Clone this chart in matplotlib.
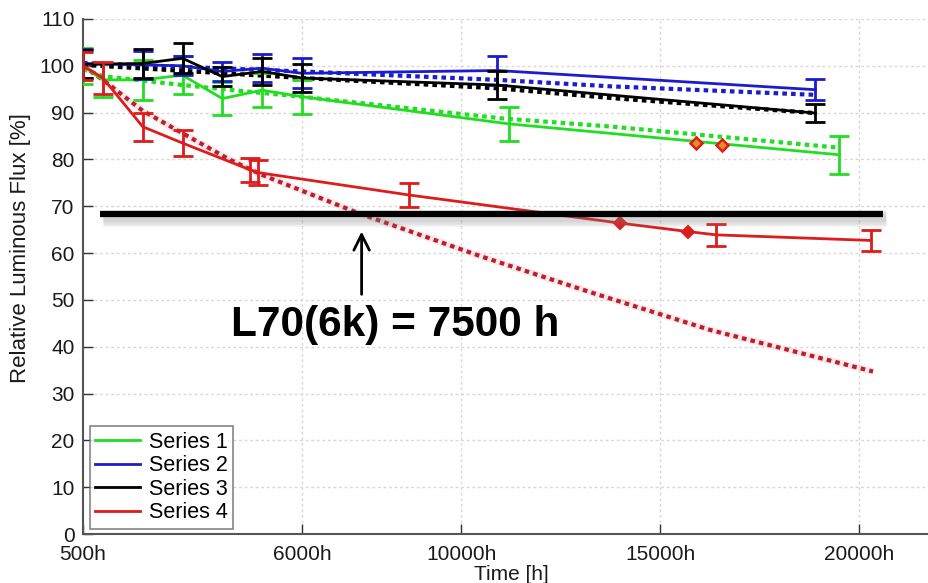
import matplotlib
matplotlib.use("Agg")
import matplotlib.pyplot as plt
import matplotlib.patheffects as pe

plt.rcParams['font.family'] = ['Liberation Sans', 'DejaVu Sans']

# ---- measured series (hours, relative luminous flux %) ----
s1_hours = [500, 1000, 2000, 3000, 4000, 5000, 6000, 11200, 19500]
s1_flux = [100.0, 97.0, 97.0, 98.0, 93.0, 94.8, 93.4, 87.6, 81.0]
s1_err = [3.8, 3.7, 4.2, 4.0, 3.5, 3.7, 3.6, 3.6, 4.0]
s1_fit_hours = [500, 1000, 3000, 4500, 6000, 11000, 13800, 19500]
s1_fit_flux = [99.3, 97.8, 95.9, 94.6, 93.4, 88.8, 87.0, 82.5]

s2_hours = [500, 2000, 3000, 4000, 5000, 6000, 10900, 18900]
s2_flux = [100.5, 100.2, 100.0, 98.8, 99.5, 98.4, 99.0, 94.9]
s2_err = [3.0, 3.0, 2.0, 2.0, 3.0, 3.2, 3.0, 2.2]
s2_fit_hours = [500, 6000, 10900, 13800, 18900]
s2_fit_flux = [100.6, 98.8, 97.0, 95.6, 93.8]

s3_hours = [500, 2000, 3000, 4000, 5000, 6000, 10900, 18900]
s3_flux = [100.3, 100.5, 101.6, 97.7, 98.8, 97.4, 95.9, 89.9]
s3_err = [3.0, 3.0, 3.2, 2.0, 2.8, 2.9, 2.9, 1.9]
s3_fit_hours = [500, 6000, 10900, 13800, 18900]
s3_fit_flux = [100.2, 97.4, 95.2, 93.1, 89.9]

s4_hours = [500, 1000, 2000, 3000, 4700, 4900, 8700, 14000, 15700, 16400, 20300]
s4_flux = [100.0, 97.4, 87.0, 83.5, 77.8, 77.2, 72.4, 66.4, 64.6, 63.9, 62.7]
s4_err = [3.0, 3.4, 3.0, 2.85, 2.6, 2.6, 2.5, 0.0, 0.0, 2.3, 2.3]
s4_fit_hours = [500, 1000, 2000, 3000, 4200, 5000, 7400, 10500, 13300, 16250, 20350]
s4_fit_flux = [100.0, 97.0, 90.4, 85.6, 79.9, 76.7, 68.6, 59.3, 51.5, 43.6, 34.7]

# single readings marked with diamonds
s1_mark_hours = [15900, 16550]
s1_mark_flux = [83.6, 83.1]
s4_mark_hours = [14000, 15700]
s4_mark_flux = [66.4, 64.6]

# lifetime threshold and its reading
threshold_flux = 68.3
threshold_span = [930, 20600]
l70_hours = 7500
l70_label = "L70(6k) = 7500 h"

x_ticks = [500, 6000, 10000, 15000, 20000]
x_tick_labels = ["500h", "6000h", "10000h", "15000h", "20000h"]
y_ticks = list(range(0, 111, 10))
series_names = ["Series 1", "Series 2", "Series 3", "Series 4"]

GREEN = "#22dd22"
BLUE = "#1c1ccc"
BLACK = "#000000"
RED = "#dd1c1c"
DARKRED = "#b82030"

fig = plt.figure(figsize=(9.29, 5.83), dpi=100)
ax = fig.add_axes([83 / 929, 49 / 583, 846 / 929, 515 / 583])

dot = (0, (1.1, 1.0))
fit_lw = 3.0


def fit_line(h, f, color, halo=None):
    if halo is not None:
        ax.plot(h, f, color=halo, lw=fit_lw + 2.0, ls='-', alpha=0.25,
                solid_capstyle='butt', zorder=2)
    ax.plot(h, f, color=color, lw=fit_lw, linestyle=dot,
            dash_capstyle='butt', zorder=3)


def measured(h, f, e, color):
    hh = [x for x, v in zip(h, e) if v > 0]
    ff = [y for y, v in zip(f, e) if v > 0]
    ee = [v for v in e if v > 0]
    ax.errorbar(hh, ff, yerr=ee, fmt='none', ecolor=color, elinewidth=2,
                capsize=7, capthick=2, zorder=4)
    line, = ax.plot(h, f, color=color, lw=2, zorder=4)
    return line


fit_line(s1_fit_hours, s1_fit_flux, GREEN)
fit_line(s2_fit_hours, s2_fit_flux, BLUE)
fit_line(s3_fit_hours, s3_fit_flux, BLACK)
fit_line(s4_fit_hours, s4_fit_flux, DARKRED, halo="#f4a0a8")

handles = [
    measured(s1_hours, s1_flux, s1_err, GREEN),
    measured(s2_hours, s2_flux, s2_err, BLUE),
    measured(s3_hours, s3_flux, s3_err, BLACK),
    measured(s4_hours, s4_flux, s4_err, RED),
]

ax.plot(s1_mark_hours, s1_mark_flux, ls='none', marker='D', ms=6,
        mfc="#e0902a", mec=RED, mew=1.8, zorder=5)
ax.plot(s4_mark_hours, s4_mark_flux, ls='none', marker='D', ms=6,
        mfc=RED, mec=RED, mew=1.5, zorder=5)

# threshold bar with a soft drop shadow
shadow = [pe.SimpleLineShadow(offset=(2, -3), shadow_color='0.5',
                              alpha=0.12, linewidth=w) for w in (12, 9, 6)]
ax.plot(threshold_span, [threshold_flux, threshold_flux], color='black',
        lw=4.5, solid_capstyle='butt', zorder=6,
        path_effects=shadow + [pe.Normal()])

ax.annotate("", xy=(l70_hours, 65.2), xytext=(l70_hours, 50.6),
            arrowprops=dict(arrowstyle='->', color='black', lw=2,
                            mutation_scale=28), zorder=7)
ax.text(8350, 44.7, l70_label, fontsize=30.5, fontweight='bold',
        ha='center', va='center', zorder=7)

ax.set_xlim(500, 21756)
ax.set_ylim(0, 110)
ax.set_xticks(x_ticks)
ax.set_xticklabels(x_tick_labels)
ax.set_yticks(y_ticks)
ax.tick_params(direction='in', length=7, width=1, colors='#333333',
               labelcolor='#1a1a1a', labelsize=15)
ax.tick_params(axis='x', pad=8)
ax.tick_params(axis='y', pad=6)
ax.grid(True, color='#d8d8d8', lw=1, ls=(0, (2, 2)))
ax.set_axisbelow(True)
for side in ('top', 'right'):
    ax.spines[side].set_visible(False)
for side in ('left', 'bottom'):
    ax.spines[side].set_color('#555555')
    ax.spines[side].set_linewidth(1.5)

ax.set_ylabel("Relative Luminous Flux [%]", fontsize=16, color='#1a1a1a')
ax.yaxis.set_label_coords(-0.061, 0.555)
ax.set_xlabel("Time [h]", fontsize=15, color='#1a1a1a', va='center')
ax.xaxis.set_label_coords(0.506, -0.079)

leg = ax.legend(handles, series_names, loc='lower left',
                bbox_to_anchor=(0.008, 0.01), fontsize=15.5, frameon=True,
                fancybox=False, edgecolor='#666666', handlelength=2.1,
                handletextpad=0.4, labelspacing=0.12, borderpad=0.25,
                borderaxespad=0.0)
leg.get_frame().set_linewidth(1.2)
leg.set_zorder(8)

fig.savefig("out.png", dpi=100)
